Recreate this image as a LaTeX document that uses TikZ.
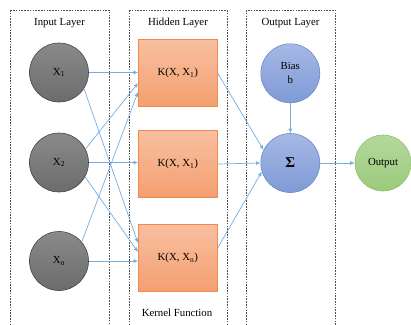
\documentclass[tikz,border=0pt]{standalone}
\usepackage{fontspec}
\setmainfont{Liberation Serif}
\usetikzlibrary{arrows.meta}
\definecolor{grayfillA}{HTML}{8A8A8A}
\definecolor{grayfillB}{HTML}{6C6C6C}
\definecolor{grayline}{HTML}{454545}
\definecolor{orgA}{HTML}{F8BFA0}
\definecolor{orgB}{HTML}{F4A070}
\definecolor{orgline}{HTML}{F28A50}
\definecolor{bluA}{HTML}{A6B9E6}
\definecolor{bluB}{HTML}{7F9AD6}
\definecolor{bluline}{HTML}{6A88CC}
\definecolor{grnA}{HTML}{B4D89C}
\definecolor{grnB}{HTML}{9CCB7C}
\definecolor{grnline}{HTML}{8CC06C}
\definecolor{arrcol}{HTML}{74AEE2}
\definecolor{dashcol}{HTML}{505050}
\begin{document}
\begin{tikzpicture}[x=1pt,y=-1pt,
  every node/.style={font=\fontsize{10.8}{13}\selectfont, inner sep=0pt},
  layerbox/.style={draw=dashcol, dash pattern=on 1.6pt off 1.2pt, line width=0.6pt},
  innode/.style={circle, draw=grayline, line width=0.6pt, top color=grayfillA, bottom color=grayfillB, minimum size=59pt},
  kbox/.style={rectangle, draw=orgline, line width=0.6pt, top color=orgA, bottom color=orgB, minimum width=79pt, minimum height=67pt},
  bnode/.style={circle, draw=bluline, line width=0.6pt, top color=bluA, bottom color=bluB, minimum size=59pt},
  gnode/.style={circle, draw=grnline, line width=0.6pt, top color=grnA, bottom color=grnB, minimum size=56pt},
  arr/.style={draw=arrcol, line width=0.7pt, -{Latex[length=4.5pt,width=4pt]}}
]
\useasboundingbox (0,0) rectangle (411,324);
\clip (0,0) rectangle (411,324);
% layer boxes
\draw[layerbox] (10,10) rectangle (109.3,340);
\draw[layerbox] (129.5,10) rectangle (227,340);
\draw[layerbox] (246,10) rectangle (335,340);
% labels
\node (lin) at (59.5,23) {Input Layer};
\node (lhid) at (178,23) {Hidden Layer};
\node (lout) at (290.5,23) {Output Layer};
\node (lker) at (177,313) {Kernel Function};
% input nodes
\node[innode] (X1) at (59,72.5) {X\textsubscript{1}};
\node[innode] (X2) at (59,162.5) {X\textsubscript{2}};
\node[innode] (Xn) at (59,261) {X\textsubscript{n}};
% hidden nodes
\node[kbox] (K1) at (177.8,73) {K(X, X\textsubscript{1})};
\node[kbox] (K2) at (177.8,164) {K(X, X\textsubscript{1})};
\node[kbox] (K3) at (177.8,258) {K(X, X\textsubscript{n})};
% output layer
\node[bnode, align=center] (B) at (290.3,73.3) {Bias\\[1pt]b};
\node[bnode] (S) at (290.3,163) {\fontsize{15}{16}\selectfont\textbf{Σ}};
\node[gnode] (O) at (383,163) {Output};
% connectors
\draw[arr] (X1) -- (X1 -| K1.west);
\draw[arr] (X1.-33) -- ([yshift=15pt]K3.west);
\draw[arr] (X2.27) -- ([yshift=-10pt]K1.west);
\draw[arr] (X2) -- (X2 -| K2.west);
\draw[arr] (X2.-29) -- ([yshift=6pt]K3.west);
\draw[arr] (Xn.40) -- ([yshift=-19pt]K1.west);
\draw[arr] (Xn) -- (Xn -| K3.west);
\draw[arr] (K1.east) -- (S.154);
\draw[arr] (K2.east) -- (S.west);
\draw[arr] ([yshift=10pt]K3.east) -- (S.197);
\draw[arr] (B) -- (S);
\draw[arr] (S) -- (O);
\end{tikzpicture}
\end{document}
